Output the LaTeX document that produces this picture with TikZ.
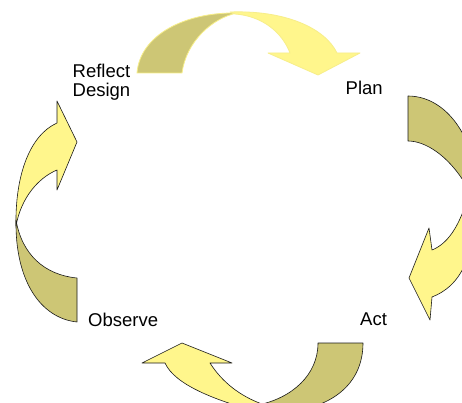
\documentclass[tikz,border=0pt]{standalone}
\usepackage{fontspec}
\setmainfont{Liberation Sans}
\definecolor{lightfill}{HTML}{FFF68C}
\definecolor{darkfill}{HTML}{CDC675}
\definecolor{paleedge}{HTML}{F7EE8A}
\definecolor{outline}{HTML}{1A1A1A}
\tikzset{
  front/.style={fill=lightfill, draw=outline, line width=0.6pt, line join=round},
  back/.style={fill=darkfill, draw=outline, line width=0.6pt, line join=round},
  softfront/.style={fill=lightfill, draw=paleedge, line width=0.8pt, line join=round},
  softback/.style={fill=darkfill, draw=paleedge, line width=0.8pt, line join=round},
  label/.style={anchor=base west, inner sep=0pt, font=\fontsize{18.5}{19}\selectfont, align=left}
}
\begin{document}
\begin{tikzpicture}[x=1pt, y=-1pt]
\useasboundingbox (0,0) rectangle (462,403);
\fill[white] (0,0) rectangle (462,403);
\begin{scope}
\clip (0,0) rectangle (462,403);
% top arrow (Reflect Design -> Plan)
\path[softback] (137,73) .. controls (140,35) and (185,12) .. (237,13)
  .. controls (212,18) and (186,42) .. (182,73) -- cycle;
\path[softfront] (230,12) .. controls (285,10) and (325,28) .. (337,53)
  -- (360,53) -- (318,75) -- (268,53) -- (290,53)
  .. controls (282,32) and (262,16) .. (235,14) -- cycle;
% right arrow (Plan -> Act)
\path[back] (408,96) .. controls (430,96) and (452,110) .. (466,140)
  -- (470,195) -- (466,185) .. controls (448,155) and (425,141) .. (408,141) -- cycle;
\path[front] (466,203) .. controls (458,228) and (447,244) .. (432,250)
  -- (429,228) -- (409,278) -- (430,320) -- (432,297)
  .. controls (445,292) and (458,282) .. (466,262) -- cycle;
% bottom arrow (Act -> Observe)
\path[back] (363,343) -- (318,343) .. controls (318,375) and (292,398) .. (258,405)
  -- (258,412) -- (280,412) .. controls (330,410) and (363,385) .. (363,343) -- cycle;
\path[front] (142,363) -- (182,343) -- (232,363) -- (210,363)
  .. controls (222,382) and (240,396) .. (262,404) -- (258,412)
  .. controls (215,400) and (175,385) .. (165,363) -- cycle;
% left arrow (Observe -> Reflect Design)
\path[back] (16,220) .. controls (15,280) and (40,318) .. (77,322)
  -- (77,278) .. controls (45,275) and (22,255) .. (16,220) -- cycle;
\path[front] (57,101) -- (77,142) -- (57,190) -- (57,170)
  .. controls (38,178) and (21,198) .. (16,226)
  .. controls (15,175) and (30,135) .. (57,123) -- cycle;
\end{scope}
% labels
\node[label] (reflect) at (72.5,78) {Reflect};
\node[label] (design) at (72.5,96.5) {Design};
\node[label] (plan) at (345.5,95) {Plan};
\node[label] (act) at (360,325.5) {Act};
\node[label] (observe) at (88,326.5) {Observe};
\end{tikzpicture}
\end{document}
